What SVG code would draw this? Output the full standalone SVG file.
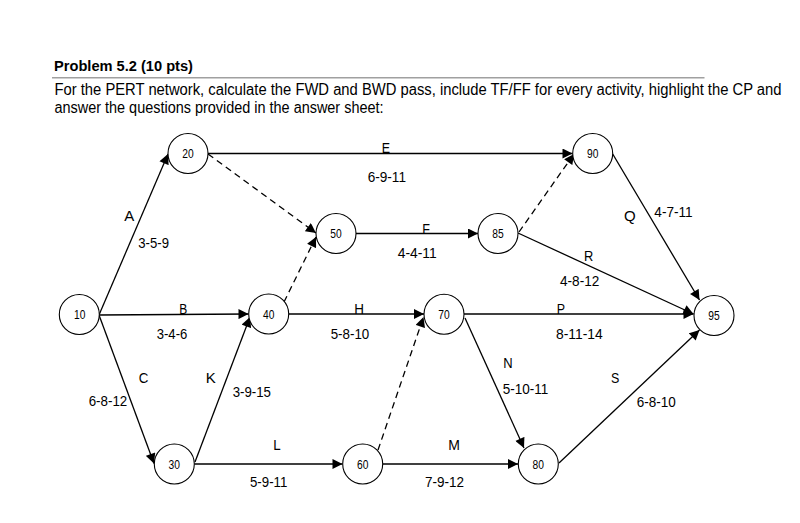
<svg xmlns="http://www.w3.org/2000/svg" width="800" height="523" viewBox="0 0 800 523">
<style>
text{font-family:"Liberation Sans Narrow","Liberation Sans",Arial,sans-serif;fill:#000}
.hdr{font-size:16px}
.ttl{font-size:14px;font-weight:bold}
.lbl{font-size:14.5px}
.nl{font-size:13px;text-anchor:middle}
.e{stroke:#000;stroke-width:1.3;fill:none;marker-end:url(#ah)}
.d{stroke-dasharray:6.5,4.5}
circle{fill:#fff;stroke:#000;stroke-width:1.1}
</style>
<defs>
<marker id="ah" markerUnits="userSpaceOnUse" viewBox="0 0 10 10" markerWidth="11" markerHeight="10" refX="10" refY="5" orient="auto">
<path d="M0,0 L10,5 L0,10 z" fill="#000"/>
</marker>
</defs>
<rect width="800" height="523" fill="#fff"/>
<g id="header">
<text class="ttl" x="54" y="71" textLength="139" lengthAdjust="spacingAndGlyphs">Problem 5.2 (10 pts)</text>
<line x1="52" y1="77.7" x2="704.5" y2="77.7" stroke="#a0a0a0" stroke-width="1.4"/>
<text class="hdr" x="54.5" y="95" textLength="727" lengthAdjust="spacingAndGlyphs">For the PERT network, calculate the FWD and BWD pass, include TF/FF for every activity, highlight the CP and</text>
<text class="hdr" x="54.5" y="113" textLength="329" lengthAdjust="spacingAndGlyphs">answer the questions provided in the answer sheet:</text>
</g>
<g id="connectors">
<line class="e" x1="99" y1="315" x2="168" y2="154"/>
<line class="e" x1="99" y1="315" x2="248.5" y2="314"/>
<line class="e" x1="99" y1="315" x2="154" y2="463.5"/>
<line class="e" x1="208" y1="153.5" x2="572.5" y2="153.5"/>
<line class="e d" x1="208" y1="154" x2="316" y2="233"/>
<line class="e" x1="356" y1="233.5" x2="478" y2="233.5"/>
<line class="e d" x1="519" y1="232" x2="574" y2="154"/>
<line class="e" x1="518" y1="233" x2="693.5" y2="314"/>
<line class="e" x1="612.7" y1="154" x2="699.5" y2="300"/>
<line class="e" x1="289" y1="314" x2="424" y2="314"/>
<line class="e d" x1="284" y1="302" x2="316" y2="237"/>
<line class="e" x1="464" y1="314" x2="693.5" y2="314"/>
<line class="e" x1="195" y1="462" x2="250" y2="317"/>
<line class="e" x1="194.3" y1="464" x2="342.5" y2="464"/>
<line class="e d" x1="378" y1="450" x2="423.5" y2="317"/>
<line class="e" x1="383" y1="464" x2="518" y2="464"/>
<line class="e" x1="465" y1="318" x2="524" y2="448"/>
<line class="e" x1="559" y1="463" x2="699.5" y2="330"/>
</g>
<g id="edge-labels">
<text class="lbl" x="124.3" y="220.7" textLength="10" lengthAdjust="spacingAndGlyphs">A</text>
<text class="lbl" x="138.3" y="248" textLength="30.7" lengthAdjust="spacingAndGlyphs">3-5-9</text>
<text class="lbl" x="179.3" y="314" textLength="8" lengthAdjust="spacingAndGlyphs">B</text>
<text class="lbl" x="156.7" y="339.3" textLength="30.6" lengthAdjust="spacingAndGlyphs">3-4-6</text>
<text class="lbl" x="354.3" y="314" textLength="9.7" lengthAdjust="spacingAndGlyphs">H</text>
<text class="lbl" x="330.7" y="339.3" textLength="38.6" lengthAdjust="spacingAndGlyphs">5-8-10</text>
<text class="lbl" x="138.7" y="382.7" textLength="9.6" lengthAdjust="spacingAndGlyphs">C</text>
<text class="lbl" x="205.7" y="382.7" textLength="10" lengthAdjust="spacingAndGlyphs">K</text>
<text class="lbl" x="88.7" y="406" textLength="38.6" lengthAdjust="spacingAndGlyphs">6-8-12</text>
<text class="lbl" x="232.7" y="397.3" textLength="38.3" lengthAdjust="spacingAndGlyphs">3-9-15</text>
<text class="lbl" x="273.3" y="450" textLength="7.4" lengthAdjust="spacingAndGlyphs">L</text>
<text class="lbl" x="250" y="487.3" textLength="37.3" lengthAdjust="spacingAndGlyphs">5-9-11</text>
<text class="lbl" x="556.7" y="314" textLength="8.3" lengthAdjust="spacingAndGlyphs">P</text>
<text class="lbl" x="556" y="339.3" textLength="46.7" lengthAdjust="spacingAndGlyphs">8-11-14</text>
<text class="lbl" x="503.3" y="368.3" textLength="9.4" lengthAdjust="spacingAndGlyphs">N</text>
<text class="lbl" x="502.7" y="394" textLength="45.6" lengthAdjust="spacingAndGlyphs">5-10-11</text>
<text class="lbl" x="611" y="382.7" textLength="8.3" lengthAdjust="spacingAndGlyphs">S</text>
<text class="lbl" x="636.7" y="406.7" textLength="39" lengthAdjust="spacingAndGlyphs">6-8-10</text>
<text class="lbl" x="448.3" y="450" textLength="11.7" lengthAdjust="spacingAndGlyphs">M</text>
<text class="lbl" x="425" y="487.3" textLength="39" lengthAdjust="spacingAndGlyphs">7-9-12</text>
<text class="lbl" x="381.7" y="152.5" textLength="8.3" lengthAdjust="spacingAndGlyphs">E</text>
<text class="lbl" x="367.7" y="181.7" textLength="38.3" lengthAdjust="spacingAndGlyphs">6-9-11</text>
<text class="lbl" x="422.3" y="234" textLength="7.7" lengthAdjust="spacingAndGlyphs">F</text>
<text class="lbl" x="397.7" y="258.3" textLength="39" lengthAdjust="spacingAndGlyphs">4-4-11</text>
<text class="lbl" x="584" y="261" textLength="9.3" lengthAdjust="spacingAndGlyphs">R</text>
<text class="lbl" x="560" y="286" textLength="39.3" lengthAdjust="spacingAndGlyphs">4-8-12</text>
<text class="lbl" x="624" y="220.7" textLength="11.7" lengthAdjust="spacingAndGlyphs">Q</text>
<text class="lbl" x="654.3" y="217.3" textLength="38.4" lengthAdjust="spacingAndGlyphs">4-7-11</text>
</g>
<g id="n10"><circle cx="79.3" cy="314.5" r="20"/><text class="nl" x="79.8" y="319" textLength="11.4" lengthAdjust="spacingAndGlyphs">10</text></g>
<g id="n20"><circle cx="188" cy="153.5" r="20"/><text class="nl" x="188" y="158" textLength="11.4" lengthAdjust="spacingAndGlyphs">20</text></g>
<g id="n30"><circle cx="174.3" cy="464" r="20"/><text class="nl" x="174.3" y="468.5" textLength="11.4" lengthAdjust="spacingAndGlyphs">30</text></g>
<g id="n40"><circle cx="268.7" cy="314" r="20"/><text class="nl" x="268.7" y="318.5" textLength="11.4" lengthAdjust="spacingAndGlyphs">40</text></g>
<g id="n50"><circle cx="336" cy="233.5" r="20"/><text class="nl" x="336" y="238" textLength="11.4" lengthAdjust="spacingAndGlyphs">50</text></g>
<g id="n60"><circle cx="362.7" cy="464" r="20"/><text class="nl" x="362.7" y="468.5" textLength="11.4" lengthAdjust="spacingAndGlyphs">60</text></g>
<g id="n70"><circle cx="444" cy="314.3" r="20"/><text class="nl" x="444" y="318.8" textLength="11.4" lengthAdjust="spacingAndGlyphs">70</text></g>
<g id="n80"><circle cx="538.3" cy="464" r="20"/><text class="nl" x="538.3" y="468.5" textLength="11.4" lengthAdjust="spacingAndGlyphs">80</text></g>
<g id="n85"><circle cx="498" cy="233.5" r="20"/><text class="nl" x="498" y="238" textLength="11.4" lengthAdjust="spacingAndGlyphs">85</text></g>
<g id="n90"><circle cx="592.7" cy="153.5" r="20"/><text class="nl" x="592.7" y="158" textLength="11.4" lengthAdjust="spacingAndGlyphs">90</text></g>
<g id="n95"><circle cx="714" cy="315.5" r="20"/><text class="nl" x="714" y="320" textLength="11.4" lengthAdjust="spacingAndGlyphs">95</text></g>
</svg>
